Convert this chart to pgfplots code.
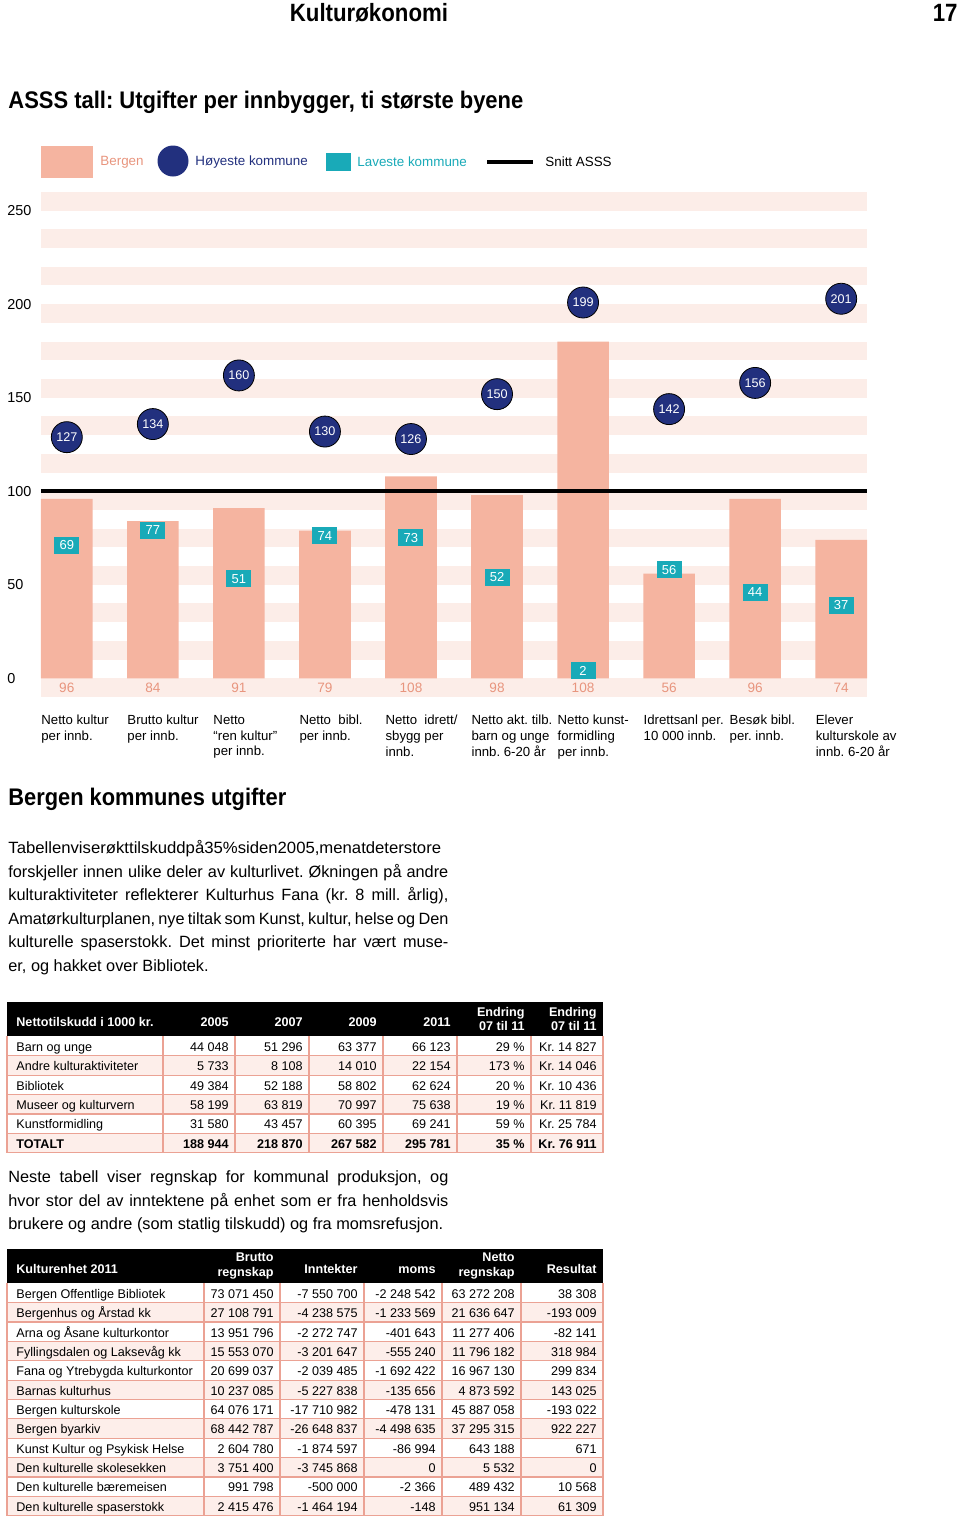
\documentclass[border=0pt]{standalone}
\usepackage{fontspec}
\setmainfont{Liberation Sans}
\usepackage{graphicx}
\usepackage{pgfplots}
\pgfplotsset{compat=1.18}
\definecolor{salmon}{HTML}{F5B4A0}
\definecolor{stripe}{HTML}{FCEDE8}
\definecolor{navy}{HTML}{22307E}
\definecolor{teal2}{HTML}{19AAB8}
\definecolor{bandtxt}{HTML}{E8957E}
\definecolor{tborder}{HTML}{EBA294}
\definecolor{trow}{HTML}{FDEEEA}
\newcommand{\fs}[2]{\fontsize{#1}{#2}\selectfont}
\newcommand{\jl}[1]{\makebox[220pt][s]{\spaceskip=0.24em plus 2em minus 0.04em\relax #1}}
\pgfdeclareplotmark{tealbox}{\pgfpathrectangle{\pgfpoint{-6.25pt}{-4.25pt}}{\pgfpoint{12.5pt}{8.5pt}}\pgfusepathqfill}
\begin{document}
\frenchspacing
\begin{tikzpicture}
\begin{scope}[x=0.5pt,y=-0.5pt]
\useasboundingbox (0,0) rectangle (960,1521);
% page header and title
\node[anchor=base, inner sep=0] at (369,21) {\scalebox{0.89}[1]{\fs{12.5}{14}\bfseries Kulturøkonomi}};
\node[anchor=base east, inner sep=0] at (958,21) {\scalebox{0.89}[1]{\fs{12.5}{14}\bfseries 17}};
\node[anchor=base west, inner sep=0] at (8,108) {\scalebox{0.915}[1]{\fs{12}{14}\bfseries ASSS tall: Utgifter per innbygger, ti største byene}};
% legend
\fill[salmon] (41,146) rectangle (93,178);
\node[anchor=west, inner sep=0, text=bandtxt, font=\fs{6.7}{8}] at (100,162) {Bergen};
\fill[navy] (173,161) circle (7.75pt);
\node[anchor=west, inner sep=0, text=navy, font=\fs{6.7}{8}] at (195,162) {Høyeste kommune};
\fill[teal2] (326,153) rectangle (351,171);
\node[anchor=west, inner sep=0, text=teal2, font=\fs{6.7}{8}] at (357,162) {Laveste kommune};
\draw[black, line width=2pt] (487,162) -- (533,162);
\node[anchor=west, inner sep=0, font=\fs{6.7}{8}] at (545,162) {Snitt ASSS};
% background stripes
\foreach \k in {0,...,13} \fill[stripe] (41,{678.3-37.41*\k}) rectangle (867,{697-37.41*\k});
\end{scope}

\begin{axis}[at={(20.5pt,-348.5pt)}, anchor=south west,
  width=413pt, height=252.5pt, scale only axis,
  xmin=-0.3, xmax=9.3, ymin=-10, ymax=260, clip=false,
  axis line style={draw=none}, major tick length=0pt, tick style={draw=none},
  /pgf/number format/assume math mode=true,
  ytick={0,50,...,250},
  yticklabel style={anchor=west, xshift=-17pt, inner sep=0pt, font=\fs{7.2}{8}},
  xtick={0,...,9},
  xticklabels={{Netto kultur\\per innb.},{Brutto kultur\\per innb.},{Netto\\“ren kultur”\\per innb.},{Netto\ \ bibl.\\per innb.},{Netto\ \ idrett/\\sbygg per\\innb.},{Netto akt. tilb.\\barn og unge\\innb. 6-20 år},{Netto kunst-\\formidling\\per innb.},{Idrettsanl per.\\10 000 innb.},{Besøk bibl.\\per. innb.},{Elever\\kulturskole av\\innb. 6-20 år}},
  xticklabel style={anchor=north west, align=left, inner sep=0pt, xshift=-12.9pt, yshift=-9pt, font=\fs{6.6}{7.8}\frenchspacing},
]
\addplot[ybar, bar width=0.6, fill=salmon, draw=none] coordinates {(0,96)(1,84)(2,91)(3,79)(4,108)(5,98)(6,180)(7,56)(8,96)(9,74)};
\addplot[black, line width=2pt, mark=none] coordinates {(-0.3,100)(9.3,100)};
\addplot[yshift=2pt, only marks, mark=tealbox, mark options={fill=teal2, draw=none},
  nodes near coords, point meta=explicit symbolic,
  nodes near coords style={anchor=center, text=white, inner sep=0pt, font=\fs{6.5}{7}}]
  coordinates {(0,69)[69] (1,77)[77] (2,51)[51] (3,74)[74] (4,73)[73] (5,52)[52] (6,2)[2] (7,56)[56] (8,44)[44] (9,37)[37]};
\addplot[yshift=1.8pt, only marks, mark=*, mark size=7.75pt, mark options={fill=navy, draw=none},
  nodes near coords, point meta=explicit symbolic,
  nodes near coords style={anchor=center, text=white, inner sep=0pt, font=\fs{6.3}{7}}]
  coordinates {(0,127)[127] (1,134)[134] (2,160)[160] (3,130)[130] (4,126)[126] (5,150)[150] (6,199)[199] (7,142)[142] (8,156)[156] (9,201)[201]};
\addplot[draw=none, mark=none,
  nodes near coords, point meta=explicit symbolic,
  nodes near coords style={anchor=center, text=bandtxt, inner sep=0pt, font=\fs{6.8}{7}}]
  coordinates {(0,-5)[96] (1,-5)[84] (2,-5)[91] (3,-5)[79] (4,-5)[108] (5,-5)[98] (6,-5)[108] (7,-5)[56] (8,-5)[96] (9,-5)[74]};
\end{axis}

\begin{scope}[x=0.5pt,y=-0.5pt]
% section heading and text
\node[anchor=base west, inner sep=0] at (8,805) {\scalebox{0.91}[1]{\fs{12}{14}\bfseries Bergen kommunes utgifter}};
\begin{scope}[every node/.style={anchor=base west, inner sep=0, font=\fs{8.15}{10}\frenchspacing}]
\node at (8,853) {\scalebox{1.025}[1]{Tabellenviserøkttilskuddpå35\%siden2005,menatdeterstore}};
\node at (8,877) {\jl{forskjeller innen ulike deler av kulturlivet. Økningen på andre}};
\node at (8,900) {\jl{kulturaktiviteter reflekterer Kulturhus Fana (kr. 8 mill. årlig),}};
\node at (8,924) {\jl{Amatørkulturplanen, nye tiltak som Kunst, kultur, helse og Den}};
\node at (8,947) {\jl{kulturelle spaserstokk. Det minst prioriterte har vært muse-}};
\node at (8,971) {er, og hakket over Bibliotek.};
\node at (8,1182) {\jl{Neste tabell viser regnskap for kommunal produksjon, og}};
\node at (8,1206) {\jl{hvor stor del av inntektene på enhet som er fra henholdsvis}};
\node at (8,1229) {brukere og andre (som statlig tilskudd) og fra momsrefusjon.};
\end{scope}

% ---------- table 1 ----------
\fill[black] (7,1002) rectangle (603,1036.3);
\foreach \i in {1,3,5} \fill[trow] (7,{1036.3+19.4*\i}) rectangle (603,{1036.3+19.4*(\i+1)});
\foreach \i in {1,...,6} \draw[tborder, line width=0.6pt] (7,{1036.3+19.4*\i}) -- (603,{1036.3+19.4*\i});
\foreach \x in {7,163,235,309,383,457,531,603} \draw[tborder, line width=0.6pt] (\x,1036.3) -- (\x,1152.7);
\begin{scope}[every node/.style={inner sep=0, font=\fs{6.3}{7.3}\frenchspacing}]
\node[anchor=mid west, text=white, font=\fs{6.3}{7.3}\bfseries] at (16,1021) {Nettotilskudd i 1000 kr.};
\foreach \x/\t in {229/2005,303/2007,377/2009,451/2011}
  \node[anchor=mid east, text=white, font=\fs{6.3}{7.3}\bfseries] at (\x,1021) {\t};
\node[anchor=east, align=right, text=white, font=\fs{6.3}{7.3}\bfseries] at (525,1019) {Endring\\07 til 11};
\node[anchor=east, align=right, text=white, font=\fs{6.3}{7.3}\bfseries] at (597,1019) {Endring\\07 til 11};
\foreach \i/\a/\b/\c/\d/\e/\f/\g in {0/Barn og unge/44 048/51 296/63 377/66 123/29 \%/Kr. 14 827,
  1/Andre kulturaktiviteter/5 733/8 108/14 010/22 154/173 \%/Kr. 14 046,
  2/Bibliotek/49 384/52 188/58 802/62 624/20 \%/Kr. 10 436,
  3/Museer og kulturvern/58 199/63 819/70 997/75 638/19 \%/Kr. 11 819,
  4/Kunstformidling/31 580/43 457/60 395/69 241/59 \%/Kr. 25 784}{
  \node[anchor=mid west] at (16,{1046+19.4*\i}) {\a};
  \node[anchor=mid east] at (229,{1046+19.4*\i}) {\b};
  \node[anchor=mid east] at (303,{1046+19.4*\i}) {\c};
  \node[anchor=mid east] at (377,{1046+19.4*\i}) {\d};
  \node[anchor=mid east] at (451,{1046+19.4*\i}) {\e};
  \node[anchor=mid east] at (525,{1046+19.4*\i}) {\f};
  \node[anchor=mid east] at (597,{1046+19.4*\i}) {\g};
}
\begin{scope}[every node/.style={inner sep=0, font=\fs{6.3}{7.3}\bfseries\frenchspacing}]
\node[anchor=mid west] at (16,1143) {TOTALT};
\node[anchor=mid east] at (229,1143) {188 944};
\node[anchor=mid east] at (303,1143) {218 870};
\node[anchor=mid east] at (377,1143) {267 582};
\node[anchor=mid east] at (451,1143) {295 781};
\node[anchor=mid east] at (525,1143) {35 \%};
\node[anchor=mid east] at (597,1143) {Kr. 76 911};
\end{scope}
\end{scope}

% ---------- table 2 ----------
\fill[black] (7,1249) rectangle (603,1283.3);
\foreach \i in {1,3,5,7,9,11} \fill[trow] (7,{1283.3+19.36*\i}) rectangle (603,{1283.3+19.36*(\i+1)});
\foreach \i in {1,...,12} \draw[tborder, line width=0.6pt] (7,{1283.3+19.36*\i}) -- (603,{1283.3+19.36*\i});
\foreach \x in {7,204,280,364,442,521,603} \draw[tborder, line width=0.6pt] (\x,1283.3) -- (\x,1515.6);
\begin{scope}[every node/.style={inner sep=0, font=\fs{6.3}{7.3}}]
\node[anchor=mid west, text=white, font=\fs{6.3}{7.3}\bfseries] at (16,1268) {Kulturenhet 2011};
\node[anchor=east, align=right, text=white, font=\fs{6.3}{7.3}\bfseries] at (274,1266) {Brutto\\regnskap};
\node[anchor=mid east, text=white, font=\fs{6.3}{7.3}\bfseries] at (358,1268) {Inntekter};
\node[anchor=mid east, text=white, font=\fs{6.3}{7.3}\bfseries] at (436,1268) {moms};
\node[anchor=east, align=right, text=white, font=\fs{6.3}{7.3}\bfseries] at (515,1266) {Netto\\regnskap};
\node[anchor=mid east, text=white, font=\fs{6.3}{7.3}\bfseries] at (597,1268) {Resultat};
\foreach \i/\a/\b/\c/\d/\e/\f in {0/Bergen Offentlige Bibliotek/73 071 450/-7 550 700/-2 248 542/63 272 208/38 308,
  1/Bergenhus og Årstad kk/27 108 791/-4 238 575/-1 233 569/21 636 647/-193 009,
  2/Arna og Åsane kulturkontor/13 951 796/-2 272 747/-401 643/11 277 406/-82 141,
  3/Fyllingsdalen og Laksevåg kk/15 553 070/-3 201 647/-555 240/11 796 182/318 984,
  4/Fana og Ytrebygda kulturkontor/20 699 037/-2 039 485/-1 692 422/16 967 130/299 834,
  5/Barnas kulturhus/10 237 085/-5 227 838/-135 656/4 873 592/143 025,
  6/Bergen kulturskole/64 076 171/-17 710 982/-478 131/45 887 058/-193 022,
  7/Bergen byarkiv/68 442 787/-26 648 837/-4 498 635/37 295 315/922 227,
  8/Kunst Kultur og Psykisk Helse/2 604 780/-1 874 597/-86 994/643 188/671,
  9/Den kulturelle skolesekken/3 751 400/-3 745 868/0/5 532/0,
  10/Den kulturelle bæremeisen/991 798/-500 000/-2 366/489 432/10 568,
  11/Den kulturelle spaserstokk/2 415 476/-1 464 194/-148/951 134/61 309}{
  \node[anchor=mid west] at (16,{1293+19.36*\i}) {\a};
  \node[anchor=mid east] at (274,{1293+19.36*\i}) {\b};
  \node[anchor=mid east] at (358,{1293+19.36*\i}) {\c};
  \node[anchor=mid east] at (436,{1293+19.36*\i}) {\d};
  \node[anchor=mid east] at (515,{1293+19.36*\i}) {\e};
  \node[anchor=mid east] at (597,{1293+19.36*\i}) {\f};
}
\end{scope}
\end{scope}
\end{tikzpicture}
\end{document}
